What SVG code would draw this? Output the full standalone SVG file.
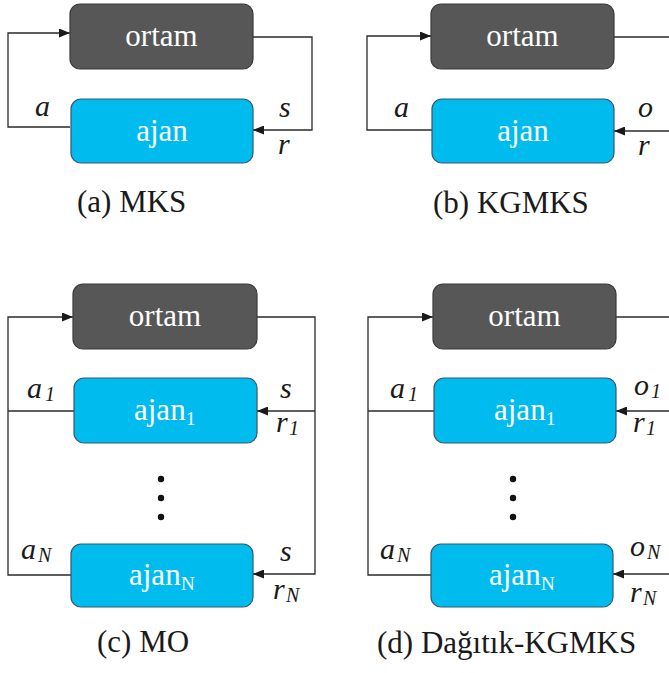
<svg xmlns="http://www.w3.org/2000/svg" width="669" height="673" viewBox="0 0 669 673">
  <defs>
    <marker id="arrow" markerUnits="userSpaceOnUse" markerWidth="11" markerHeight="9" refX="11" refY="4.5" orient="auto">
      <path d="M0,0 L11,4.5 L0,9 z" fill="#1a1a1a"/>
    </marker>
    <style>
      .env { fill: #575757; stroke: #3a3a3a; stroke-width: 1.2; }
      .agent { fill: #00BCEE; stroke: #35586e; stroke-width: 1.2; }
      .boxtext { font-size: 31px; fill: #ffffff; }
      .mid { text-anchor: middle; }
      .sub { font-size: 19px; fill: #ffffff; }
      .lbl { font-style: italic; font-size: 30px; fill: #1a1a1a; }
      .lsub { font-style: italic; font-size: 20px; fill: #1a1a1a; }
      .cap { font-size: 31px; fill: #1a1a1a; }
      .wire { fill: none; stroke: #2a2a2a; stroke-width: 1.3; }
      .dot { fill: #111111; }
    </style>
  </defs>

  <rect width="669" height="673" fill="#ffffff"/>

  <!-- connectors -->
  <g id="connectors">
    <!-- (a) -->
    <path class="wire" d="M70,127 H8 V33 H70" marker-end="url(#arrow)"/>
    <path class="wire" d="M253,37 H312 V130 H253" marker-end="url(#arrow)"/>
    <!-- (b) -->
    <path class="wire" d="M432,130 H367 V36 H431" marker-end="url(#arrow)"/>
    <path class="wire" d="M614,37 H670"/>
    <path class="wire" d="M670,131 H614" marker-end="url(#arrow)"/>
    <!-- (c) -->
    <path class="wire" d="M74,411 H8"/>
    <path class="wire" d="M71,575 H8 V317 H73" marker-end="url(#arrow)"/>
    <path class="wire" d="M257,317 H315 V574 H253" marker-end="url(#arrow)"/>
    <path class="wire" d="M315,411 H257" marker-end="url(#arrow)"/>
    <!-- (d) -->
    <path class="wire" d="M434,411 H368"/>
    <path class="wire" d="M431,575 H368 V317 H433" marker-end="url(#arrow)"/>
    <path class="wire" d="M616,317 H670"/>
    <path class="wire" d="M670,411 H616" marker-end="url(#arrow)"/>
    <path class="wire" d="M670,574 H613" marker-end="url(#arrow)"/>
  </g>

  <!-- (a) MKS -->
  <g id="a-ortam">
    <rect class="env" x="70" y="4" width="183" height="65" rx="10"/>
    <text class="boxtext mid" style="font-family:'Liberation Serif'" x="161.5" y="46">ortam</text>
  </g>
  <g id="a-ajan">
    <rect class="agent" x="71" y="99" width="182" height="64" rx="10"/>
    <text class="boxtext mid" style="font-family:'Liberation Serif'" x="162" y="140.5">ajan</text>
  </g>
  <g id="a-labels">
    <text class="lbl" style="font-family:'Liberation Serif'" x="35" y="116">a</text>
    <text class="lbl" style="font-family:'Liberation Serif'" x="279" y="117">s</text>
    <text class="lbl" style="font-family:'Liberation Serif'" x="278" y="154">r</text>
    <text class="cap" style="font-family:'Liberation Serif'" x="77" y="212">(a) MKS</text>
  </g>

  <!-- (b) KGMKS -->
  <g id="b-ortam">
    <rect class="env" x="431" y="4" width="183" height="65" rx="10"/>
    <text class="boxtext mid" style="font-family:'Liberation Serif'" x="522.5" y="46">ortam</text>
  </g>
  <g id="b-ajan">
    <rect class="agent" x="432" y="99" width="182" height="64" rx="10"/>
    <text class="boxtext mid" style="font-family:'Liberation Serif'" x="523" y="140.5">ajan</text>
  </g>
  <g id="b-labels">
    <text class="lbl" style="font-family:'Liberation Serif'" x="394" y="117">a</text>
    <text class="lbl" style="font-family:'Liberation Serif'" x="638" y="117">o</text>
    <text class="lbl" style="font-family:'Liberation Serif'" x="638" y="155">r</text>
    <text class="cap" style="font-family:'Liberation Serif'" x="433" y="213">(b) KGMKS</text>
  </g>

  <!-- (c) MO -->
  <g id="c-ortam">
    <rect class="env" x="73" y="284" width="184" height="65" rx="10"/>
    <text class="boxtext mid" style="font-family:'Liberation Serif'" x="165" y="326">ortam</text>
  </g>
  <g id="c-ajan1">
    <rect class="agent" x="74" y="378" width="183" height="65" rx="10"/>
    <text class="boxtext" style="font-family:'Liberation Serif'" x="134" y="420">ajan</text>
    <text class="sub" style="font-family:'Liberation Serif'" x="186" y="425">1</text>
  </g>
  <g id="c-dots">
    <circle class="dot" cx="161" cy="479" r="3.2"/>
    <circle class="dot" cx="161" cy="498" r="3.2"/>
    <circle class="dot" cx="161" cy="517" r="3.2"/>
  </g>
  <g id="c-ajanN">
    <rect class="agent" x="71" y="544" width="182" height="63" rx="10"/>
    <text class="boxtext" style="font-family:'Liberation Serif'" x="129" y="585">ajan</text>
    <text class="sub" style="font-family:'Liberation Serif'" x="181" y="590">N</text>
  </g>
  <g id="c-labels">
    <text class="lbl" style="font-family:'Liberation Serif'" x="27" y="398">a</text>
    <text class="lsub" style="font-family:'Liberation Serif'" x="45" y="401">1</text>
    <text class="lbl" style="font-family:'Liberation Serif'" x="280" y="398">s</text>
    <text class="lbl" style="font-family:'Liberation Serif'" x="276" y="432">r</text>
    <text class="lsub" style="font-family:'Liberation Serif'" x="289" y="435">1</text>
    <text class="lbl" style="font-family:'Liberation Serif'" x="21" y="559">a</text>
    <text class="lsub" style="font-family:'Liberation Serif'" x="38" y="562">N</text>
    <text class="lbl" style="font-family:'Liberation Serif'" x="280" y="561">s</text>
    <text class="lbl" style="font-family:'Liberation Serif'" x="273" y="599">r</text>
    <text class="lsub" style="font-family:'Liberation Serif'" x="286" y="602">N</text>
    <text class="cap" style="font-family:'Liberation Serif'" x="97" y="652">(c) MO</text>
  </g>

  <!-- (d) Dağıtık-KGMKS -->
  <g id="d-ortam">
    <rect class="env" x="433" y="284" width="183" height="65" rx="10"/>
    <text class="boxtext mid" style="font-family:'Liberation Serif'" x="524.5" y="326">ortam</text>
  </g>
  <g id="d-ajan1">
    <rect class="agent" x="434" y="378" width="182" height="65" rx="10"/>
    <text class="boxtext" style="font-family:'Liberation Serif'" x="494" y="420">ajan</text>
    <text class="sub" style="font-family:'Liberation Serif'" x="546" y="425">1</text>
  </g>
  <g id="d-dots">
    <circle class="dot" cx="513" cy="479" r="3.2"/>
    <circle class="dot" cx="513" cy="498" r="3.2"/>
    <circle class="dot" cx="513" cy="517" r="3.2"/>
  </g>
  <g id="d-ajanN">
    <rect class="agent" x="431" y="544" width="182" height="63" rx="10"/>
    <text class="boxtext" style="font-family:'Liberation Serif'" x="489" y="585">ajan</text>
    <text class="sub" style="font-family:'Liberation Serif'" x="541" y="590">N</text>
  </g>
  <g id="d-labels">
    <text class="lbl" style="font-family:'Liberation Serif'" x="390" y="398">a</text>
    <text class="lsub" style="font-family:'Liberation Serif'" x="408" y="401">1</text>
    <text class="lbl" style="font-family:'Liberation Serif'" x="634" y="395">o</text>
    <text class="lsub" style="font-family:'Liberation Serif'" x="651" y="398">1</text>
    <text class="lbl" style="font-family:'Liberation Serif'" x="633" y="432">r</text>
    <text class="lsub" style="font-family:'Liberation Serif'" x="646" y="435">1</text>
    <text class="lbl" style="font-family:'Liberation Serif'" x="380" y="559">a</text>
    <text class="lsub" style="font-family:'Liberation Serif'" x="397" y="562">N</text>
    <text class="lbl" style="font-family:'Liberation Serif'" x="630" y="556">o</text>
    <text class="lsub" style="font-family:'Liberation Serif'" x="647" y="559">N</text>
    <text class="lbl" style="font-family:'Liberation Serif'" x="630" y="602">r</text>
    <text class="lsub" style="font-family:'Liberation Serif'" x="643" y="605">N</text>
    <text class="cap" style="font-family:'Liberation Serif'" x="377" y="653">(d) Dağıtık-KGMKS</text>
  </g>
</svg>
